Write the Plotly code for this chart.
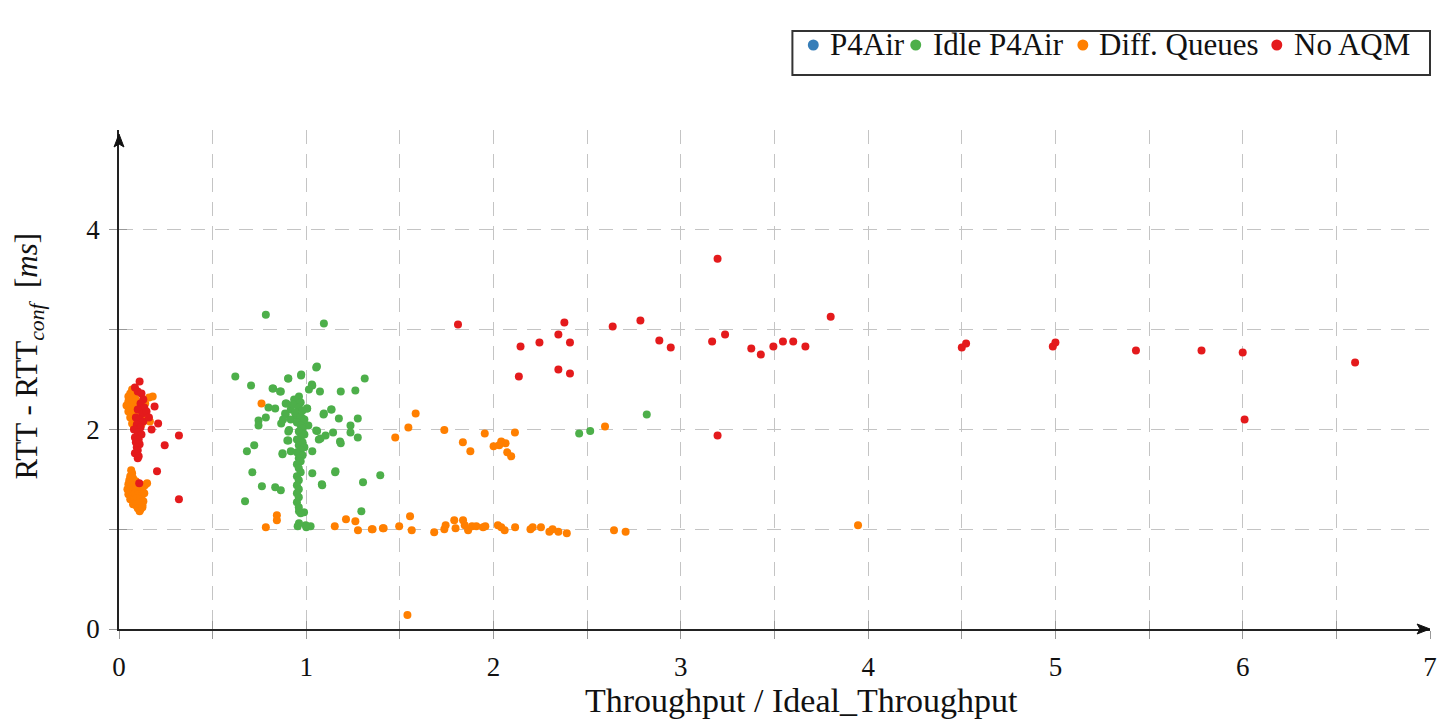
import plotly.graph_objects as go

# ---- data: throughput ratio (x) vs. RTT increase in ms (y) ----
p4air_x = [None]
p4air_y = [None]

idle_x = [0.784, 1.094, 1.053, 0.621, 0.972, 0.904, 1.312, 0.705, 0.823, 0.864, 1.184, 1.262,
          1.032, 1.014, 1.073, 0.961, 0.935, 0.890, 0.798, 0.834, 1.004, 1.133, 1.092, 1.174,
          1.275, 0.784, 0.745, 0.745, 0.890, 0.866, 0.944, 0.961, 0.917, 0.979, 1.011, 1.053,
          1.103, 1.067, 1.143, 1.236, 1.236, 1.275, 1.184, 0.904, 0.904, 0.722, 0.683, 0.873,
          0.917, 1.032, 0.712, 1.032, 1.154, 1.395, 1.303, 1.083, 0.763, 0.834, 0.864, 0.673,
          1.294, 0.961, 0.988, 0.961, 0.954, 1.000, 1.023, 1.057, 1.030, 0.973, 0.903, 0.820,
          0.860, 0.935, 0.894, 0.887, 0.876, 0.917, 0.952, 0.979, 1.005, 1.094, 1.135, 1.058,
          1.076, 1.180, 0.908, 0.899, 0.873, 1.156, 1.085, 0.970, 0.997,
          0.950, 0.970, 0.930, 0.960, 0.980, 0.940, 0.970, 0.990, 0.950, 0.970, 0.980, 0.960,
          0.990, 0.970, 0.950, 0.980, 0.960, 0.990, 0.970, 0.950, 0.980, 0.960, 0.970, 0.950,
          0.960, 0.970, 0.950, 0.960, 0.950, 0.960, 0.950, 0.960, 0.950, 0.960,
          2.457, 2.516, 2.818]
idle_y = [3.15, 3.06, 2.62, 2.53, 2.54, 2.51, 2.51, 2.44, 2.41, 2.38, 2.38, 2.39,
          2.44, 2.40, 2.38, 2.33, 2.30, 2.26, 2.22, 2.21, 2.21, 2.20, 2.15, 2.11,
          2.11, 2.12, 2.09, 2.04, 2.15, 2.06, 2.15, 2.08, 2.10, 2.11, 2.04, 1.99,
          1.94, 1.90, 1.97, 2.04, 1.97, 1.92, 1.86, 1.98, 1.89, 1.84, 1.78, 1.75,
          1.78, 1.78, 1.57, 1.56, 1.57, 1.54, 1.47, 1.45, 1.43, 1.42, 1.39, 1.28,
          1.18, 1.18, 1.17, 1.06, 1.03, 1.02, 1.03, 2.63, 2.45, 2.55, 2.51, 2.41,
          2.38, 2.25, 2.26, 2.16, 2.10, 2.20, 2.13, 2.08, 2.21, 2.16, 2.20, 1.985,
          1.91, 1.88, 1.995, 1.89, 1.76, 1.58, 1.44, 1.16, 1.04,
          2.30, 2.27, 2.25, 2.22, 2.19, 2.17, 2.13, 2.10, 2.07, 2.04, 2.01, 1.98,
          1.95, 1.92, 1.90, 1.87, 1.84, 1.82, 1.79, 1.77, 1.74, 1.71, 1.68, 1.65,
          1.61, 1.57, 1.53, 1.49, 1.44, 1.40, 1.36, 1.32, 1.27, 1.22,
          1.96, 1.985, 2.15]

diff_x = [0.07, 0.06, 0.05, 0.08, 0.05, 0.07, 0.04, 0.06, 0.09, 0.10, 0.08, 0.05, 0.07, 0.09,
          0.11, 0.06, 0.08, 0.10, 0.12, 0.07, 0.09, 0.11, 0.08, 0.161, 0.14, 0.15, 0.13, 0.165,
          0.12, 0.18,
          0.065, 0.07, 0.06, 0.075, 0.055, 0.07, 0.09, 0.05, 0.065, 0.08, 0.10, 0.12, 0.138,
          0.15, 0.045, 0.06, 0.075, 0.09, 0.11, 0.125, 0.05, 0.07, 0.085, 0.10, 0.12, 0.135,
          0.06, 0.08, 0.095, 0.115, 0.13, 0.075, 0.09, 0.105, 0.125, 0.10, 0.115, 0.11, 0.125,
          0.761, 0.843, 0.843, 0.784, 1.152, 1.212, 1.262, 1.276, 1.350, 1.409, 1.475,
          1.584, 1.545, 1.737, 1.836, 1.876, 1.953, 2.000, 2.041, 2.064, 2.073, 2.094, 2.114,
          2.030, 2.595,
          1.354, 1.413, 1.496, 1.554, 1.563, 1.683, 1.737, 1.744, 1.790, 1.797, 1.837, 1.846,
          1.864, 1.885, 1.908, 1.944, 1.956, 2.023, 2.041, 2.059, 2.115, 2.197, 2.209, 2.253,
          2.298, 2.315, 2.346, 2.391, 2.643, 2.705, 1.540, 3.946]
diff_y = [2.40, 2.36, 2.33, 2.34, 2.28, 2.27, 2.24, 2.22, 2.30, 2.25, 2.20, 2.18, 2.15, 2.17,
          2.20, 2.12, 2.10, 2.12, 2.15, 2.06, 2.05, 2.04, 2.02, 2.32, 2.26, 2.10, 2.12, 2.08,
          2.05, 2.33,
          1.59, 1.56, 1.53, 1.51, 1.49, 1.47, 1.48, 1.45, 1.43, 1.44, 1.45, 1.44, 1.44,
          1.46, 1.40, 1.38, 1.39, 1.40, 1.41, 1.39, 1.35, 1.34, 1.36, 1.35, 1.33, 1.36,
          1.30, 1.29, 1.31, 1.30, 1.28, 1.25, 1.24, 1.26, 1.24, 1.21, 1.20, 1.18, 1.22,
          2.26, 1.14, 1.09, 1.02, 1.03, 1.10, 1.08, 0.99, 1.00, 1.01, 1.92,
          2.16, 2.02, 1.995, 1.87, 1.78, 1.96, 1.83, 1.88, 1.86, 1.77, 1.73, 1.97,
          1.84, 2.03,
          1.00, 1.01, 1.03, 1.13, 0.99, 0.97, 1.00, 1.04, 1.09, 1.01, 1.09, 1.04,
          0.99, 1.03, 1.03, 1.02, 1.03, 1.04, 1.02, 0.99, 1.02, 1.00, 1.02, 1.02,
          0.975, 1.00, 0.975, 0.96, 0.99, 0.975, 0.14, 1.04]

noaqm_x = [0.11, 0.085, 0.10, 0.12, 0.13, 0.115, 0.135, 0.10, 0.125, 0.09, 0.11, 0.13, 0.095,
           0.115, 0.08, 0.10, 0.12, 0.085, 0.105, 0.09, 0.11, 0.095, 0.10, 0.085, 0.105, 0.10,
           0.19, 0.147, 0.209, 0.174, 0.244, 0.32, 0.203, 0.32, 0.108, 0.16,
           1.81, 2.144, 2.245, 2.346, 2.378, 2.408, 2.135, 2.346, 2.408, 2.636, 2.784, 2.885,
           2.946, 3.167, 3.236, 3.376, 3.427, 3.494, 3.545, 3.600, 3.665, 3.800, 3.196, 3.196,
           4.500, 4.523, 4.986, 5.000, 5.430, 5.780, 6.000, 6.600, 6.010]
noaqm_y = [2.48, 2.42, 2.38, 2.36, 2.30, 2.26, 2.22, 2.20, 2.16, 2.12, 2.10, 2.08, 2.05,
           2.02, 2.00, 1.97, 1.95, 1.92, 1.90, 1.87, 1.85, 1.82, 1.79, 1.76, 1.73, 1.71,
           2.23, 2.18, 2.06, 2.00, 1.84, 1.94, 1.58, 1.30, 1.46, 2.12,
           3.05, 2.83, 2.87, 2.95, 3.07, 2.87, 2.53, 2.60, 2.56, 3.03, 3.09, 2.89,
           2.82, 2.88, 2.95, 2.81, 2.75, 2.83, 2.88, 2.88, 2.83, 3.13, 3.71, 1.94,
           2.82, 2.86, 2.83, 2.87, 2.79, 2.79, 2.77, 2.67, 2.10]

x_ticks = [0, 1, 2, 3, 4, 5, 6, 7]
x_minor_ticks = [0.5, 1.5, 2.5, 3.5, 4.5, 5.5, 6.5]
y_ticks = [0, 2, 4]
y_minor_ticks = [1, 3]

SERIF = "Liberation Serif"
GRID = "#c4c4c4"
TICK = "#999"
INK = "#111"
W, H = 1449, 720
ML, MR, MT, MB = 119, 12, 130, 91
PW, PH = W - ML - MR, H - MT - MB


def px_x(px):
    """pixel column -> paper x"""
    return (px - ML) / PW


def px_y(py):
    """pixel row -> paper y"""
    return (H - MB - py) / PH


fig = go.Figure()
series = [
    ("P4Air", p4air_x, p4air_y, "#377eb8"),
    ("Idle P4Air", idle_x, idle_y, "#4daf4a"),
    ("Diff. Queues", diff_x, diff_y, "#ff7f00"),
    ("No AQM", noaqm_x, noaqm_y, "#e41a1c"),
]
for name, xs, ys, col in series:
    fig.add_trace(go.Scatter(
        x=xs, y=ys, mode="markers", name=name, showlegend=False,
        marker=dict(color=col, size=8, line=dict(width=0)),
        cliponaxis=False,
    ))

grid_style = dict(showgrid=True, gridcolor=GRID, gridwidth=1.4, griddash="14px,10px")
tick_style = dict(ticks="outside", ticklen=8, tickcolor=TICK, tickwidth=1.2)
axis_common = dict(
    showline=True, linecolor="#222", linewidth=1.5, zeroline=False,
    tickfont=dict(family=SERIF, size=27, color=INK),
    **tick_style, **grid_style,
)

fig.update_layout(
    width=W, height=H,
    margin=dict(l=ML, r=MR, t=MT, b=MB),
    paper_bgcolor="white", plot_bgcolor="white",
    xaxis=dict(range=[0, 7], tickvals=x_ticks, ticklabelstandoff=5,
               minor=dict(tickvals=x_minor_ticks, **tick_style, **grid_style),
               **axis_common),
    yaxis=dict(range=[0, 5], tickvals=y_ticks, ticklabelstandoff=4,
               minor=dict(tickvals=y_minor_ticks, **tick_style, **grid_style),
               **axis_common),
    # overlay axes supply the inner half of the crossing tick marks
    xaxis2=dict(range=[0, 7], overlaying="x", anchor="y", side="bottom",
                tickvals=x_ticks + x_minor_ticks, ticks="inside", ticklen=8,
                tickcolor=TICK, tickwidth=1.2, showticklabels=False, showgrid=False,
                zeroline=False, showline=False),
    yaxis2=dict(range=[0, 5], overlaying="y", anchor="x", side="left",
                tickvals=y_ticks + y_minor_ticks, ticks="inside", ticklen=8,
                tickcolor=TICK, tickwidth=1.2, showticklabels=False, showgrid=False,
                zeroline=False, showline=False),
)

# dummy trace to activate the overlay axes
fig.add_trace(go.Scatter(x=[None], y=[None], xaxis="x2", yaxis="y2",
                         showlegend=False, hoverinfo="skip"))

# axis titles
fig.add_annotation(text="Throughput / Ideal_Throughput", xref="paper", yref="paper",
                   x=px_x(805), y=px_y(700), xanchor="center", yanchor="middle",
                   showarrow=False, font=dict(family=SERIF, size=34, color=INK))
fig.add_annotation(text="RTT - RTT<sub><i>conf</i></sub>  [<i>ms</i>]", xref="paper",
                   yref="paper", x=px_x(29), y=px_y(356),
                   xanchor="center", yanchor="middle", textangle=-90, showarrow=False,
                   font=dict(family=SERIF, size=31, color=INK))

# legend box: one row of dot + label entries
legend_box = (796, 31, 1437, 75)       # left, top, right, bottom in pixels
legend_row_y = 45
legend_dot_x = [817, 920, 1088, 1283]
legend_text_x = [832, 935, 1102, 1298]
fig.add_shape(type="rect", xref="paper", yref="paper",
              x0=px_x(legend_box[0]), x1=px_x(legend_box[2]),
              y0=px_y(legend_box[3]), y1=px_y(legend_box[1]),
              line=dict(color="#333", width=2), fillcolor="white")
for (name, _, _, col), dx, tx in zip(series, legend_dot_x, legend_text_x):
    r = 5.5
    fig.add_shape(type="circle", xref="paper", yref="paper",
                  x0=px_x(dx - r), x1=px_x(dx + r),
                  y0=px_y(legend_row_y + r), y1=px_y(legend_row_y - r),
                  line=dict(width=0), fillcolor=col)
    fig.add_annotation(text=name, xref="paper", yref="paper", x=px_x(tx),
                       y=px_y(legend_row_y), xanchor="left", yanchor="middle",
                       showarrow=False, font=dict(family=SERIF, size=31, color=INK))


def tri_path(pts):
    """closed path through pixel points, in paper coordinates"""
    coords = [f"{px_x(a):.5f},{px_y(b):.5f}" for a, b in pts]
    return "M " + " L ".join(coords) + " Z"


# arrow heads at the ends of both axes
x_end, y_axis_px, y_tip = W - MR, H - MB, 134
fig.add_shape(type="path", xref="paper", yref="paper",
              path=tri_path([(x_end, y_axis_px), (x_end - 13, y_axis_px - 5),
                             (x_end - 10, y_axis_px), (x_end - 13, y_axis_px + 5)]),
              fillcolor=INK, line=dict(color=INK, width=1))
fig.add_shape(type="path", xref="paper", yref="paper",
              path=tri_path([(ML, y_tip), (ML - 5, y_tip + 13),
                             (ML, y_tip + 10), (ML + 5, y_tip + 13)]),
              fillcolor=INK, line=dict(color=INK, width=1))

fig.write_html("out.html")
